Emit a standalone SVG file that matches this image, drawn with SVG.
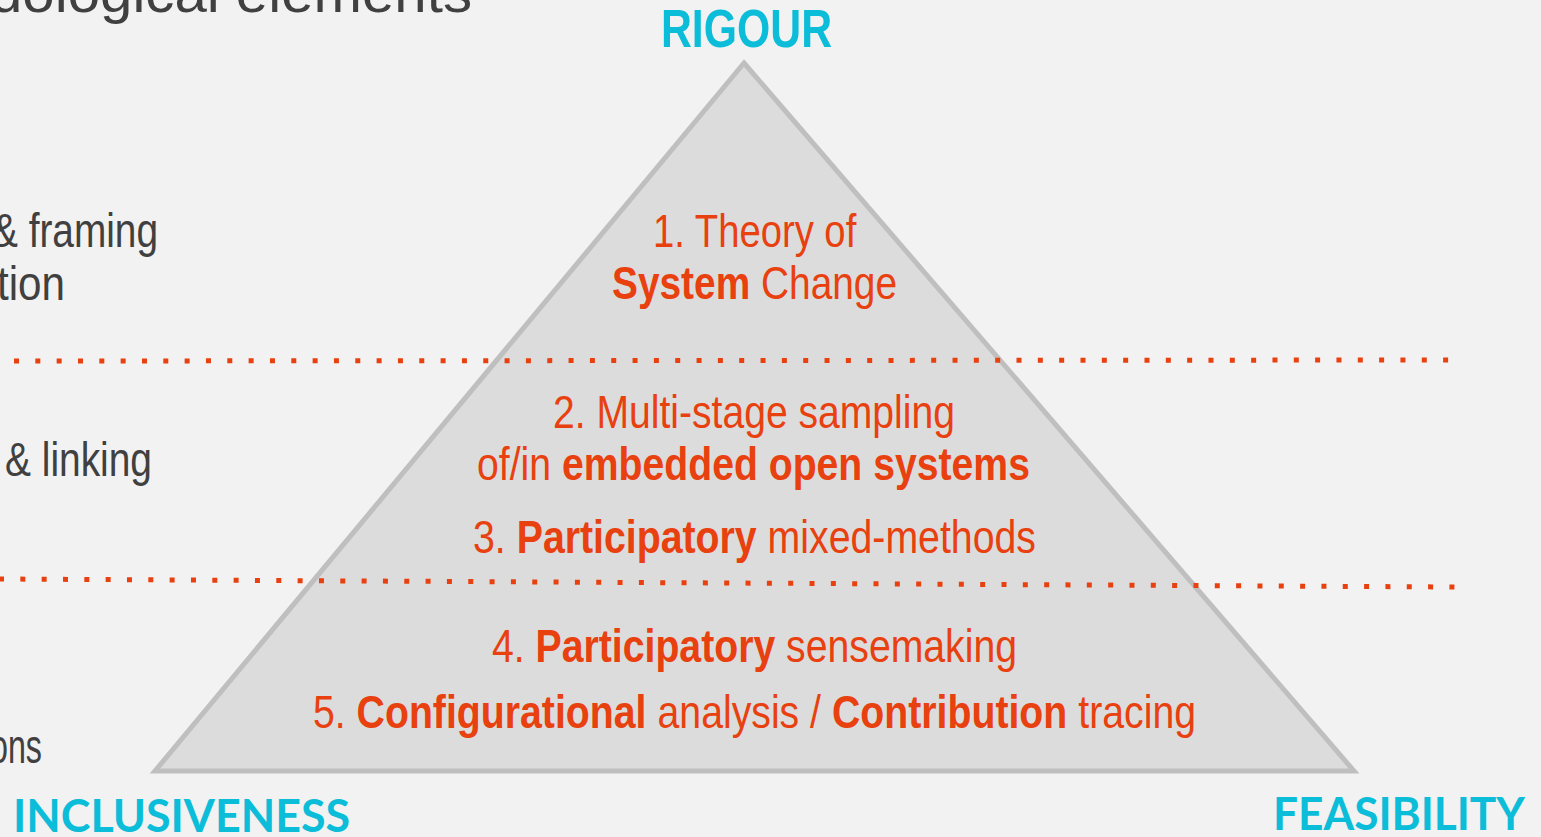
<svg xmlns="http://www.w3.org/2000/svg" width="1541" height="837" viewBox="0 0 1541 837">
  <style>
    .grey { font-family: "Liberation Sans", Arial, sans-serif; fill: #404040; font-size: 48px; }
    .tri { font-family: "Liberation Sans", Arial, sans-serif; fill: #E8400F; font-size: 47px; }
    .b { font-weight: bold; }
    .corner { font-family: Lato, "Open Sans", sans-serif; font-weight: bold; fill: #0BBDD8; font-size: 45px; }
    .rig { font-family: "Liberation Sans", Arial, sans-serif; font-weight: bold; fill: #0BBDD8; font-size: 54px; }
    .dots { stroke: #E8400F; stroke-width: 5; fill: none; stroke-dasharray: 5 16.33; }
  </style>
  <rect x="0" y="0" width="1541" height="837" fill="#F2F2F2"/>

  <g id="title">
    <text x="-10" y="12" font-family="Liberation Sans, Arial, sans-serif" font-size="56" fill="#404040" textLength="482" lengthAdjust="spacingAndGlyphs">dological elements</text>
  </g>

  <g id="pyramid">
    <polygon points="744,63 1354,771 155,771" fill="#DCDCDC" stroke="#BFBFBF" stroke-width="5" stroke-linejoin="miter"/>
  </g>

  <g id="connectors">
    <line class="dots" x1="14" y1="361" x2="1449" y2="360"/>
    <line class="dots" x1="-1" y1="579" x2="1455" y2="587"/>
  </g>

  <g id="left-labels">
    <text class="grey" x="-8" y="247" textLength="166" lengthAdjust="spacingAndGlyphs">&amp; framing</text>
    <text class="grey" x="-3" y="300" textLength="68" lengthAdjust="spacingAndGlyphs">tion</text>
    <text class="grey" x="5" y="476" textLength="147" lengthAdjust="spacingAndGlyphs">&amp; linking</text>
    <text class="grey" x="-10" y="763" textLength="52" lengthAdjust="spacingAndGlyphs">ons</text>
  </g>

  <g id="level-1">
    <text class="tri" transform="translate(653,247) scale(0.8134,1)">1. Theory of</text>
    <text class="tri b" transform="translate(612,299) scale(0.8264,1)">System</text>
    <text class="tri" transform="translate(761,299) scale(0.8264,1)">Change</text>
  </g>

  <g id="level-2">
    <text class="tri" transform="translate(553,428) scale(0.832,1)">2. Multi-stage sampling</text>
    <text class="tri" transform="translate(477,480) scale(0.8335,1)">of/in</text>
    <text class="tri b" transform="translate(562,480) scale(0.8335,1)">embedded open systems</text>
    <text class="tri" transform="translate(473,553) scale(0.8355,1)">3.</text>
    <text class="tri b" transform="translate(516.7,553) scale(0.8355,1)">Participatory</text>
    <text class="tri" transform="translate(767.6,553) scale(0.8355,1)">mixed-methods</text>
  </g>

  <g id="level-3">
    <text class="tri" transform="translate(492,662) scale(0.834,1)">4.</text>
    <text class="tri b" transform="translate(535.6,662) scale(0.834,1)">Participatory</text>
    <text class="tri" transform="translate(786.1,662) scale(0.834,1)">sensemaking</text>
    <text class="tri" transform="translate(313,728) scale(0.8349,1)">5.</text>
    <text class="tri b" transform="translate(356.6,728) scale(0.8349,1)">Configurational</text>
    <text class="tri" transform="translate(657.5,728) scale(0.8349,1)">analysis /</text>
    <text class="tri b" transform="translate(832,728) scale(0.8349,1)">Contribution</text>
    <text class="tri" transform="translate(1078.3,728) scale(0.8349,1)">tracing</text>
  </g>

  <g id="rigour">
    <text class="rig" x="661" y="47" textLength="171" lengthAdjust="spacingAndGlyphs">RIGOUR</text>
  </g>
  <g id="inclusiveness">
    <text class="corner" x="13" y="832" textLength="337" lengthAdjust="spacingAndGlyphs">INCLUSIVENESS</text>
  </g>
  <g id="feasibility">
    <text class="corner" x="1273" y="830" textLength="252" lengthAdjust="spacingAndGlyphs">FEASIBILITY</text>
  </g>
</svg>
